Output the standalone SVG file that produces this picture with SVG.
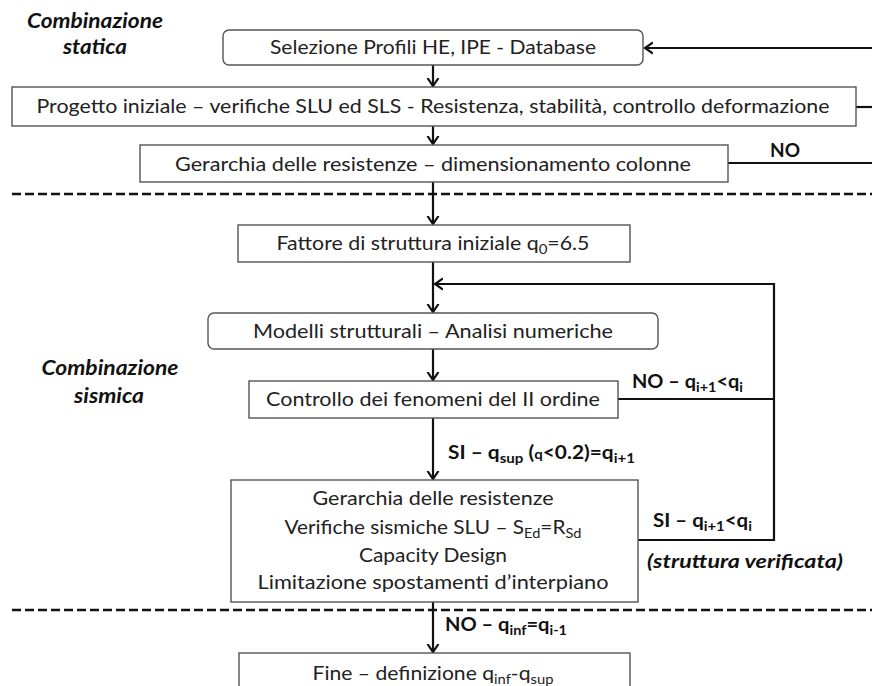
<svg xmlns="http://www.w3.org/2000/svg" width="872" height="686" viewBox="0 0 872 686">
<style>
.box{fill:#fff;stroke:#555;stroke-width:1.4}
.t{font-family:Lato,"Liberation Sans",sans-serif;font-size:20px;fill:#222;text-anchor:middle}
.lbl{font-family:Lato,"Liberation Sans",sans-serif;font-size:18px;font-weight:bold;fill:#111}
.sec{font-family:Lato,"Liberation Sans",sans-serif;font-size:20px;font-weight:bold;font-style:italic;fill:#111;text-anchor:middle}
.c{fill:none;stroke:#111;stroke-width:2.2}
.d{fill:none;stroke:#111;stroke-width:2.5;stroke-dasharray:9 4}
</style>
<defs>
<marker id="ah" markerUnits="userSpaceOnUse" markerWidth="16" markerHeight="16" viewBox="-8 -8 16 16" refX="0" refY="0" orient="auto">
<path d="M-8,-5.5 L0,0 L-8,5.5" fill="none" stroke="#111" stroke-width="2.2"/>
</marker>
</defs>
<g id="sections">
<text class="sec" x="95" y="28" textLength="136" lengthAdjust="spacingAndGlyphs">Combinazione</text>
<text class="sec" x="95" y="54" textLength="64" lengthAdjust="spacingAndGlyphs">statica</text>
<text class="sec" x="110" y="375" textLength="137" lengthAdjust="spacingAndGlyphs">Combinazione</text>
<text class="sec" x="109" y="403" textLength="70" lengthAdjust="spacingAndGlyphs">sismica</text>
<line class="d" x1="12" y1="194" x2="872" y2="194"/>
<line class="d" x1="12" y1="610" x2="872" y2="610"/>
</g>
<g id="connectors">
<line class="c" x1="433" y1="65" x2="433" y2="86" marker-end="url(#ah)"/>
<line class="c" x1="433" y1="126" x2="433" y2="144" marker-end="url(#ah)"/>
<line class="c" x1="433" y1="182" x2="433" y2="224" marker-end="url(#ah)"/>
<line class="c" x1="433" y1="262" x2="433" y2="312" marker-end="url(#ah)"/>
<line class="c" x1="433" y1="349" x2="433" y2="380" marker-end="url(#ah)"/>
<line class="c" x1="433" y1="418" x2="433" y2="479" marker-end="url(#ah)"/>
<line class="c" x1="433" y1="602" x2="433" y2="652" marker-end="url(#ah)"/>
<line class="c" x1="872" y1="48" x2="645" y2="48" marker-end="url(#ah)"/>
<line class="c" x1="856" y1="107" x2="872" y2="107"/>
<line class="c" x1="728" y1="163" x2="872" y2="163"/>
<line class="c" x1="618" y1="399" x2="774" y2="399"/>
<path class="c" d="M638,540 H774 V284 H435" marker-end="url(#ah)"/>
<text class="lbl" x="770" y="157" textLength="30" lengthAdjust="spacingAndGlyphs">NO</text>
<text class="lbl" x="632" y="388" textLength="111" lengthAdjust="spacingAndGlyphs">NO – q<tspan font-size="13" dy="4">i+1</tspan><tspan dy="-4">&lt;q</tspan><tspan font-size="13" dy="4">i</tspan></text>
<text class="lbl" x="448" y="459" textLength="187" lengthAdjust="spacingAndGlyphs">SI – q<tspan font-size="13" dy="4">sup</tspan><tspan dy="-4"> (</tspan><tspan font-size="13">q</tspan><tspan>&lt;0.2)=q</tspan><tspan font-size="13" dy="4">i+1</tspan></text>
<text class="lbl" x="653" y="527" textLength="99" lengthAdjust="spacingAndGlyphs">SI – q<tspan font-size="13" dy="4">i+1</tspan><tspan dy="-4">&lt;q</tspan><tspan font-size="13" dy="4">i</tspan></text>
<text class="lbl" x="647" y="568" font-style="italic" textLength="196" lengthAdjust="spacingAndGlyphs">(struttura verificata)</text>
<text class="lbl" x="445" y="631" textLength="122" lengthAdjust="spacingAndGlyphs">NO – q<tspan font-size="13" dy="4">inf</tspan><tspan dy="-4">=q</tspan><tspan font-size="13" dy="4">i-1</tspan></text>
</g>
<g id="n1">
<rect class="box" x="223" y="30" width="420" height="35" rx="6"/>
<text class="t" x="433" y="54" textLength="326" lengthAdjust="spacingAndGlyphs">Selezione Profili HE, IPE - Database</text>
</g>
<g id="n2">
<rect class="box" x="12" y="87" width="844" height="39"/>
<text class="t" x="433" y="113" textLength="793" lengthAdjust="spacingAndGlyphs">Progetto iniziale – verifiche SLU ed SLS - Resistenza, stabilità, controllo deformazione</text>
</g>
<g id="n3">
<rect class="box" x="140" y="145" width="588" height="37"/>
<text class="t" x="433" y="171" textLength="516" lengthAdjust="spacingAndGlyphs">Gerarchia delle resistenze – dimensionamento colonne</text>
</g>
<g id="n4">
<rect class="box" x="238" y="225" width="392" height="37"/>
<text class="t" x="433" y="250" textLength="313" lengthAdjust="spacingAndGlyphs">Fattore di struttura iniziale q<tspan font-size="14" dy="4">0</tspan><tspan dy="-4">=6.5</tspan></text>
</g>
<g id="n5">
<rect class="box" x="208" y="313" width="450" height="36" rx="6"/>
<text class="t" x="433" y="338" textLength="360" lengthAdjust="spacingAndGlyphs">Modelli strutturali – Analisi numeriche</text>
</g>
<g id="n6">
<rect class="box" x="249" y="381" width="369" height="37"/>
<text class="t" x="433" y="406" textLength="334" lengthAdjust="spacingAndGlyphs">Controllo dei fenomeni del II ordine</text>
</g>
<g id="n7">
<rect class="box" x="231" y="480" width="407" height="122"/>
<text class="t" x="433" y="505" textLength="241" lengthAdjust="spacingAndGlyphs">Gerarchia delle resistenze</text>
<text class="t" x="433" y="534" textLength="297" lengthAdjust="spacingAndGlyphs">Verifiche sismiche SLU – S<tspan font-size="14" dy="4">Ed</tspan><tspan dy="-4">=R</tspan><tspan font-size="14" dy="4">Sd</tspan></text>
<text class="t" x="433" y="562" textLength="148" lengthAdjust="spacingAndGlyphs">Capacity Design</text>
<text class="t" x="433" y="589" textLength="351" lengthAdjust="spacingAndGlyphs">Limitazione spostamenti d’interpiano</text>
</g>
<g id="n8">
<rect class="box" x="239" y="653" width="391" height="45"/>
<text class="t" x="433" y="680" textLength="241" lengthAdjust="spacingAndGlyphs">Fine – definizione q<tspan font-size="14" dy="4">inf</tspan><tspan dy="-4">-q</tspan><tspan font-size="14" dy="4">sup</tspan></text>
</g>
</svg>
